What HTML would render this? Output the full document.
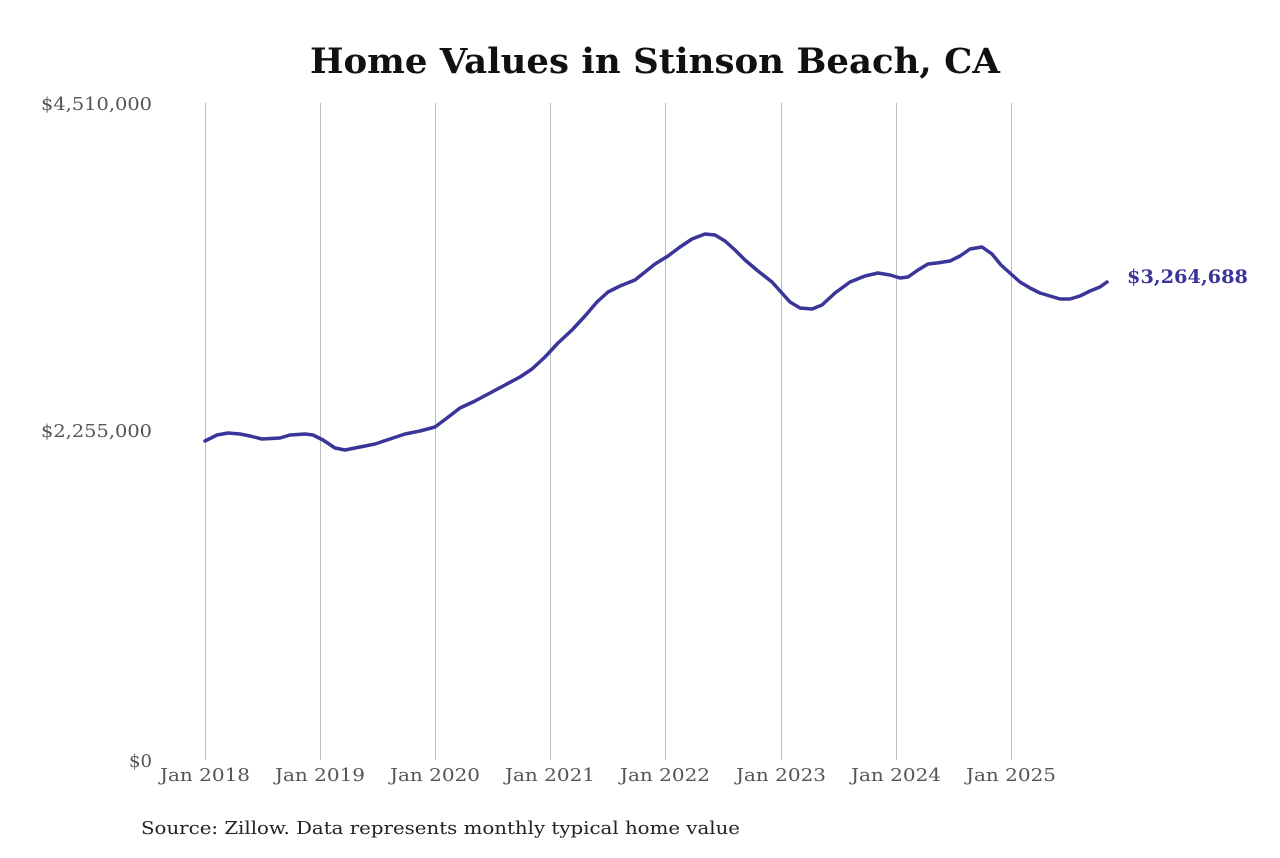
<!DOCTYPE html>
<html><head><meta charset="utf-8"><style>
body{margin:0;background:#fff;}
svg text{font-family:"DejaVu Serif","Liberation Serif",serif;}
</style></head><body>
<svg width="1280" height="853" viewBox="0 0 1280 853" xmlns="http://www.w3.org/2000/svg">
<rect width="1280" height="853" fill="#fff"/>
<text x="310" y="73" font-size="35" font-weight="bold" fill="#111" textLength="690" lengthAdjust="spacingAndGlyphs">Home Values in Stinson Beach, CA</text>
<g stroke="#bbb" stroke-width="1">
<line x1="205.5" y1="103" x2="205.5" y2="760"/>
<line x1="320.5" y1="103" x2="320.5" y2="760"/>
<line x1="435.5" y1="103" x2="435.5" y2="760"/>
<line x1="550.5" y1="103" x2="550.5" y2="760"/>
<line x1="665.5" y1="103" x2="665.5" y2="760"/>
<line x1="781.5" y1="103" x2="781.5" y2="760"/>
<line x1="896.5" y1="103" x2="896.5" y2="760"/>
<line x1="1011.5" y1="103" x2="1011.5" y2="760"/>
</g>
<g font-size="18" fill="#555">
<text x="41" y="110" textLength="111" lengthAdjust="spacingAndGlyphs">$4,510,000</text>
<text x="41" y="437" textLength="111" lengthAdjust="spacingAndGlyphs">$2,255,000</text>
<text x="129" y="767" textLength="23" lengthAdjust="spacingAndGlyphs">$0</text>
</g>
<g font-size="18" fill="#555">
<text x="160" y="781" textLength="90" lengthAdjust="spacingAndGlyphs">Jan 2018</text>
<text x="275" y="781" textLength="90" lengthAdjust="spacingAndGlyphs">Jan 2019</text>
<text x="390" y="781" textLength="90" lengthAdjust="spacingAndGlyphs">Jan 2020</text>
<text x="505" y="781" textLength="90" lengthAdjust="spacingAndGlyphs">Jan 2021</text>
<text x="620" y="781" textLength="90" lengthAdjust="spacingAndGlyphs">Jan 2022</text>
<text x="736" y="781" textLength="90" lengthAdjust="spacingAndGlyphs">Jan 2023</text>
<text x="851" y="781" textLength="90" lengthAdjust="spacingAndGlyphs">Jan 2024</text>
<text x="966" y="781" textLength="90" lengthAdjust="spacingAndGlyphs">Jan 2025</text>
</g>
<polyline fill="none" stroke="#3a3598" stroke-width="3.5" stroke-linejoin="round" stroke-linecap="round" points="205,441 217,435 228,433 240,434 250,436 262,439 280,438 290,435 305,434 313,435 323,440 335,448 345,450 355,448 375,444 390,439 405,434 420,431 435,427 447,418 460,408 475,401 490,393 505,385 520,377 532,369 545,357 558,343 572,330 585,316 597,302 608,292 620,286 635,280 645,272 655,264 668,256 680,247 692,239 705,234 715,235 725,241 735,250 745,260 758,271 772,282 781,292 790,302 800,308 812,309 822,305 835,293 850,282 865,276 878,273 890,275 900,278 908,277 918,270 928,264 937,263 950,261 960,256 970,249 982,247 992,254 1001,265 1011,274 1020,282 1030,288 1040,293 1050,296 1060,299 1070,299 1080,296 1090,291 1100,287 1107,282"/>
<text x="1127" y="283" font-size="19" font-weight="bold" fill="#3a3598" textLength="121" lengthAdjust="spacingAndGlyphs">$3,264,688</text>
<text x="141" y="834" font-size="18" fill="#222" textLength="599" lengthAdjust="spacingAndGlyphs">Source: Zillow. Data represents monthly typical home value</text>
</svg>
</body></html>
